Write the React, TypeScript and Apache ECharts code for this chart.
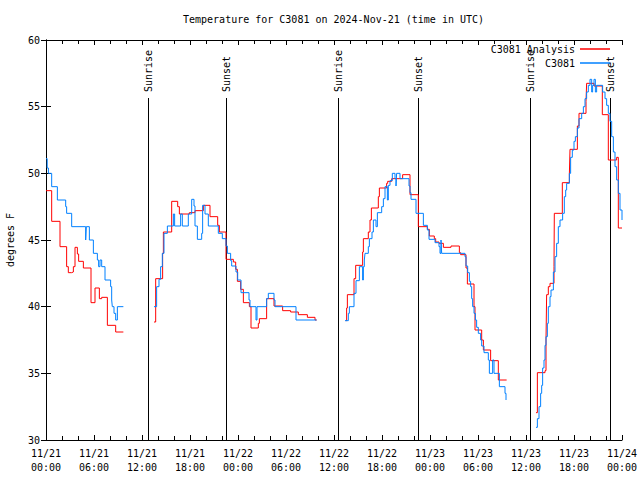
import React, { useEffect, useRef } from "react";
import * as echarts from "echarts";

// Hours since 2024-11-21 00:00 UTC, temperature in °F
const analysisDay1: [number, number][] = [[0,48.7],[0.71,46.4],[1.75,44.5],[2.58,43.0],[2.79,42.55],[3.21,42.6],[3.42,43.0],[3.625,44.45],[3.92,43.95],[4.08,43.4],[4.67,42.9],[5.625,40.3],[6.125,41.4],[6.67,40.6],[6.96,40.7],[7.67,38.6],[8.71,38.1],[9.67,38.1]];
const analysisDay2: [number, number][] = [[13.5,38.85],[13.71,42.1],[14.58,44.0],[14.67,45.6],[15.71,47.9],[16.46,47.5],[16.67,46.95],[17.92,47.05],[18.625,47.2],[19.67,47.6],[20.5,46.75],[21.46,46.1],[21.67,45.6],[22.5,43.55],[23.42,43.35],[23.71,42.8],[23.92,41.9],[24.33,41.3],[24.67,40.3],[25.42,40.0],[25.625,38.4],[26.54,38.75],[26.67,39.1],[27.58,40.6],[28.5,40.05],[29.58,39.7],[30.58,39.6],[31.54,39.4],[32.67,39.2],[33.625,39.0],[33.83,39.0]];
const analysisDay3: [number, number][] = [[37.46,38.95],[37.58,39.9],[37.67,40.9],[38.5,42.1],[38.71,43.1],[39.58,44.1],[39.67,45.1],[40.29,45.6],[40.5,46.5],[40.67,47.4],[41.54,48.25],[41.67,48.9],[42.58,49.25],[42.71,49.4],[43.21,49.6],[44.58,49.9],[45.5,48.4],[46.54,46.0],[47.67,45.8],[47.92,45.3],[48.54,45.1],[48.71,44.85],[49.125,44.75],[49.67,44.45],[50.625,44.55],[51.67,44.05],[51.83,43.9],[52.5,42.9],[52.67,41.7],[53.5,40.0],[53.625,38.25],[54.46,37.5],[54.67,36.75],[55.58,35.95],[56.54,34.5],[57.58,34.5]];
const analysisDay4: [number, number][] = [[61.25,32.05],[61.42,35.05],[62.375,35.2],[62.5,37.5],[62.58,40.9],[62.79,41.5],[63.0,41.75],[63.5,43.0],[63.54,47.0],[64.54,49.3],[65.42,49.95],[65.5,51.8],[66.42,53.55],[66.625,54.5],[67.5,55.4],[67.58,56.75],[68.5,56.55],[69.54,54.4],[70.29,51.0],[71.33,51.2],[71.54,45.9],[72,45.9]];

const sensorDay1: [number, number][] = [[0,51.1],[0.15,50.4],[0.3,50.0],[0.71,49.0],[1.42,48.0],[2.46,47.5],[2.58,47.0],[3.21,46.0],[4.96,45.0],[5.04,46.0],[5.42,45.0],[5.92,44.0],[6.42,43.5],[6.58,43.0],[6.75,43.5],[6.96,43.0],[7.375,42.0],[8.08,41.5],[8.21,40.5],[8.29,40.0],[8.5,39.5],[8.71,39.0],[8.92,40.0],[9.67,40.0]];
const sensorDay2: [number, number][] = [[13.5,40.0],[13.83,41.5],[14.125,42.05],[14.33,43.0],[14.54,44.0],[14.75,45.5],[15.17,46.05],[15.92,46.95],[16.08,46.05],[16.83,46.95],[17.04,46.05],[17.79,46.95],[18.21,48.05],[18.5,47.55],[18.625,46.05],[18.92,45.05],[19.46,45.5],[19.58,47.6],[19.875,46.95],[20.29,46.05],[21.54,45.5],[22.04,45.1],[22.5,44.55],[22.67,44.0],[23.08,43.45],[23.21,43.05],[23.75,42.6],[23.96,42.0],[24.375,41.05],[25.375,40.5],[25.5,40.0],[26.25,39.0],[26.375,40.0],[27.58,40.6],[27.79,41.0],[28.5,40.5],[28.625,40.0],[31.25,39.0],[33.83,39.0]];
const sensorDay3: [number, number][] = [[37.375,38.95],[37.79,39.5],[37.92,40.0],[38.5,41.0],[38.75,41.95],[39.17,43.0],[39.58,42.0],[39.67,43.0],[39.79,43.5],[39.875,44.0],[40.29,44.5],[40.42,45.1],[40.75,45.6],[40.92,46.5],[41.25,46.0],[41.42,47.05],[41.96,47.5],[42.17,48.1],[42.375,49.0],[42.67,48.0],[42.79,49.1],[43.0,49.45],[43.29,50.0],[43.625,49.6],[43.75,49.05],[43.83,50.0],[44.25,49.6],[45.375,49.05],[45.5,48.55],[45.625,48.05],[46.25,47.0],[47.17,46.1],[47.67,45.75],[47.875,45.05],[48.625,44.8],[49.125,44.5],[49.25,44.0],[49.375,45.0],[49.46,44.0],[52.375,43.75],[52.5,43.05],[52.71,42.55],[52.92,41.9],[53.08,41.5],[53.21,40.6],[53.33,40.0],[53.5,39.5],[53.67,39.0],[53.83,38.45],[54.04,38.0],[54.33,37.5],[54.46,37.05],[54.75,36.55],[55.29,36.0],[55.42,35.0],[55.83,36.0],[56.0,35.0],[56.67,34.0],[57.375,33.5],[57.5,33.0],[57.58,33.0]];
const sensorDay4: [number, number][] = [[61.25,30.95],[61.42,31.6],[61.625,32.5],[61.83,33.5],[61.96,34.1],[62.08,35.4],[62.25,36.0],[62.375,37.1],[62.5,37.75],[62.67,38.75],[62.79,40.0],[63.0,40.75],[63.125,41.25],[63.42,42.6],[63.625,43.75],[63.83,44.75],[64.04,46.0],[64.25,46.5],[64.58,47.0],[64.79,48.25],[64.96,48.75],[65.08,49.25],[65.42,50.0],[65.58,51.2],[65.79,51.75],[66.0,52.4],[66.17,52.75],[66.42,53.4],[66.625,54.1],[66.96,54.5],[67.17,55.0],[67.375,55.6],[67.58,56.1],[67.79,56.6],[68.0,57.05],[68.21,56.1],[68.33,56.6],[68.5,57.05],[68.67,56.1],[68.83,56.6],[69.58,56.1],[69.875,55.6],[70.08,55.1],[70.29,54.5],[70.5,53.9],[70.71,52.75],[70.92,51.6],[71.125,50.5],[71.33,49.5],[71.54,48.5],[71.75,47.25],[72,46.5]];

const sunTimes = [12.75, 22.5, 36.5, 46.5, 60.5, 70.5];
const sunLabels = ["Sunrise", "Sunset", "Sunrise", "Sunset", "Sunrise", "Sunset"];

const seriesNames = ["C3081 Analysis", "C3081"];
const seriesColors = ["#ff0000", "#0080ff"];
const titleText = "Temperature for C3081 on 2024-Nov-21 (time in UTC)";
const yName = "degrees F";
const xMin = 0, xMax = 72, xStep = 6;
const yMin = 30, yMax = 60, yStep = 5;
const startUTC = Date.UTC(2024, 10, 21, 0, 0);

const FONT = '"DejaVu Sans Mono", "Liberation Mono", monospace';

function joinSegments(segs: [number, number][][]): any[] {
  const out: any[] = [];
  segs.forEach((s, i) => {
    if (i > 0) out.push([segs[i - 1][segs[i - 1].length - 1][0] + 0.001, "-"]);
    s.forEach((p) => out.push(p));
  });
  return out;
}

function pad(n: number) { return n < 10 ? "0" + n : "" + n; }
function fmtTick(v: number) {
  const d = new Date(startUTC + v * 3600000);
  return pad(d.getUTCMonth() + 1) + "/" + pad(d.getUTCDate()) + "\n" + pad(d.getUTCHours()) + ":" + pad(d.getUTCMinutes());
}

export default function App() {
  const ref = useRef<HTMLDivElement>(null);
  useEffect(() => {
    if (!ref.current) return;
    const chart = echarts.init(ref.current, null, { renderer: "svg" });
    const axisCommon = {
      axisLine: { show: true, lineStyle: { color: "#000", width: 1 } },
      splitLine: { show: false },
    };
    chart.setOption({
      animation: false,
      backgroundColor: "#fff",
      title: {
        text: titleText,
        left: 183,
        top: 14,
        padding: 0,
        textStyle: { fontFamily: FONT, fontSize: 10, fontWeight: "normal", color: "#000" },
      },
      legend: {
        data: seriesNames,
        orient: "vertical",
        right: 25,
        top: 38,
        padding: 5,
        align: "right",
        icon: "rect",
        itemWidth: 30,
        itemHeight: 1.5,
        itemGap: 2,
        selectedMode: false,
        textStyle: { fontFamily: FONT, fontSize: 10, color: "#000", lineHeight: 12 },
      },
      grid: { left: 46, right: 18, top: 40, bottom: 40, containLabel: false, outerBoundsMode: "none" },
      xAxis: [
        {
          type: "value", min: xMin, max: xMax, interval: xStep, position: "bottom",
          ...axisCommon,
          axisTick: { show: true, inside: true, length: 5, lineStyle: { color: "#000" } },
          minorTick: { show: true, splitNumber: 3, length: 4, lineStyle: { color: "#000" } },
          axisLabel: { formatter: fmtTick, fontFamily: FONT, fontSize: 10, color: "#000", lineHeight: 14, margin: 6, showMinLabel: true, showMaxLabel: true },
        },
        {
          type: "value", min: xMin, max: xMax, interval: xStep, position: "top",
          ...axisCommon,
          axisTick: { show: true, inside: true, length: 5, lineStyle: { color: "#000" } },
          minorTick: { show: true, splitNumber: 3, length: 4, lineStyle: { color: "#000" } },
          axisLabel: { show: false },
        },
      ],
      yAxis: [
        {
          type: "value", min: yMin, max: yMax, interval: yStep, position: "left",
          ...axisCommon,
          axisTick: { show: true, inside: true, length: 5, lineStyle: { color: "#000" } },
          axisLabel: { fontFamily: FONT, fontSize: 10, color: "#000", margin: 6 },
          name: yName,
          nameLocation: "middle",
          nameRotate: 90,
          nameGap: 31,
          nameTextStyle: { fontFamily: FONT, fontSize: 10, color: "#000" },
        },
        {
          type: "value", min: yMin, max: yMax, interval: yStep, position: "right",
          ...axisCommon,
          axisTick: { show: true, inside: true, length: 5, lineStyle: { color: "#000" } },
          axisLabel: { show: false },
        },
      ],
      series: [
        {
          type: "custom",
          name: "sun",
          coordinateSystem: "cartesian2d",
          xAxisIndex: 0,
          yAxisIndex: 0,
          silent: true,
          encode: { x: 0, y: 1 },
          data: sunTimes.map((t) => [t, yMin]),
          renderItem: (params: any, api: any) => {
            const t = api.value(0);
            const bottom = api.coord([t, yMin]);
            const top = api.coord([t, yMax]);
            const x = Math.round(bottom[0]) + 0.5;
            const lineTop = top[1] + 58;
            return {
              type: "group",
              children: [
                { type: "line", shape: { x1: x, y1: bottom[1], x2: x, y2: lineTop }, style: { stroke: "#000", lineWidth: 1 } },
                {
                  type: "text", x: x, y: lineTop - 6, rotation: Math.PI / 2,
                  style: { text: sunLabels[params.dataIndex], fill: "#000", font: "10px " + FONT, align: "left", verticalAlign: "middle" },
                },
              ],
            };
          },
        },
        {
          type: "line",
          name: seriesNames[0],
          step: "end",
          showSymbol: false,
          symbol: "none",
          connectNulls: false,
          color: seriesColors[0],
          lineStyle: { width: 1, color: seriesColors[0] },
          data: joinSegments([analysisDay1, analysisDay2, analysisDay3, analysisDay4]),
        },
        {
          type: "line",
          name: seriesNames[1],
          step: "end",
          showSymbol: false,
          symbol: "none",
          connectNulls: false,
          color: seriesColors[1],
          lineStyle: { width: 1, color: seriesColors[1] },
          data: joinSegments([sensorDay1, sensorDay2, sensorDay3, sensorDay4]),
        },
      ],
    });
    return () => chart.dispose();
  }, []);
  return <div ref={ref} style={{ position: "absolute", left: 0, top: 0, width: 640, height: 480 }} />;
}
